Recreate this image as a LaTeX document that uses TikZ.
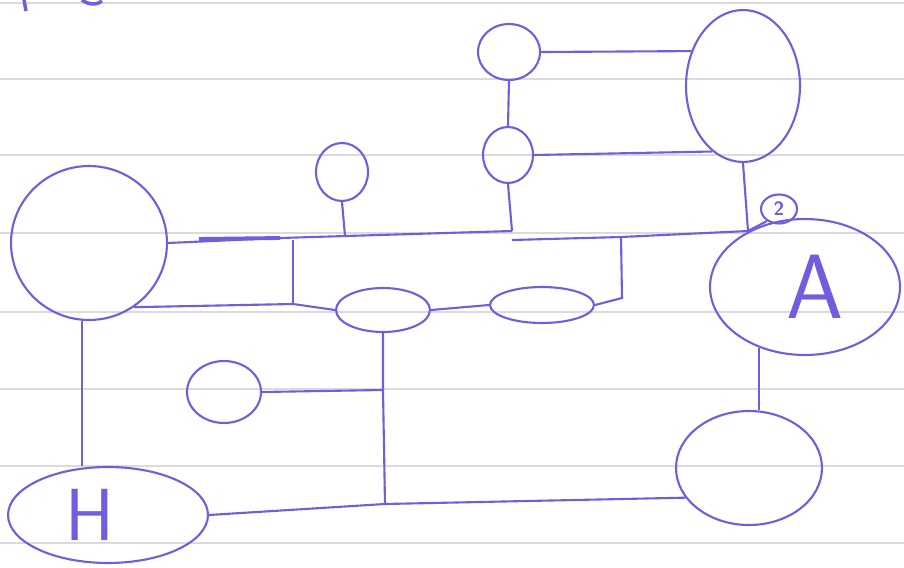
\documentclass[tikz,border=0pt]{standalone}
\usepackage{tikz}
\usetikzlibrary{shapes.geometric}
\definecolor{pen}{RGB}{112,94,224}
\definecolor{ruling}{RGB}{218,218,224}

\begin{document}
\begin{tikzpicture}[x=0.02cm,y=-0.02cm,line width=1.1pt,
  blob/.style={ellipse,draw=pen,line width=1.2pt,inner sep=0pt},
  wire/.style={draw=pen,line width=1.2pt},
  hand/.style={text=pen,font=\sffamily}]
\useasboundingbox (0,0) rectangle (904,568);
% paper rulings
\foreach \yy in {3,79,155,233,312,389,466,543}
  \draw[ruling,line width=0.6pt] (0,\yy) -- (904,\yy);
% cut-off strokes at the top
\draw[wire,line width=2pt] (24,0) -- (26,11);
\draw[wire,line width=2pt] (82,0) .. controls (88,5) and (98,5) .. (102,1);
% nodes
\node[blob,minimum width=1.24cm,minimum height=1.12cm](t1) at (509,52){};
\node[blob,minimum width=2.28cm,minimum height=3.04cm](R) at (743,86){};
\node[blob,minimum width=1.0cm,minimum height=1.12cm](t2) at (508,155){};
\node[blob,minimum width=1.04cm,minimum height=1.16cm](t3) at (342,172){};
\node[blob,minimum width=3.12cm,minimum height=3.08cm](L) at (89,243){};
\node[blob,minimum width=3.8cm,minimum height=2.72cm,label={[hand,font=\sffamily\fontsize{52}{52}\selectfont,xshift=0.2cm]center:A}](A) at (805,287){};
\node[blob,minimum width=0.72cm,minimum height=0.58cm,hand,font=\sffamily\bfseries\fontsize{11}{11}\selectfont](two) at (779,209){2};
\node[blob,minimum width=1.88cm,minimum height=0.88cm](e1) at (383,310){};
\node[blob,minimum width=2.08cm,minimum height=0.72cm](e2) at (542,305){};
\node[blob,minimum width=1.48cm,minimum height=1.24cm](s) at (224,392){};
\node[blob,minimum width=4.0cm,minimum height=1.92cm,label={[hand,font=\sffamily\fontsize{42}{42}\selectfont,xshift=-0.36cm]center:H}](H) at (108,515){};
\node[blob,minimum width=2.92cm,minimum height=2.28cm](B) at (749,468){};
% junctions
\coordinate(b0) at (199,239);\coordinate(b1) at (280,238);\coordinate(b2) at (345,236);
\coordinate(b3) at (512,231);\coordinate(b4) at (512,240);\coordinate(b5) at (621,237);
\coordinate(b6) at (622,298);\coordinate(bend) at (748,231);
\coordinate(c1) at (293,240);\coordinate(c2) at (293,304);
\coordinate(c3) at (385,504);\coordinate(c4) at (383,390);
% connectors
\draw[wire](t1.east)--(R.146);\draw[wire](t2.east)--(R.245);\draw[wire](t1.south)--(t2.north);
\draw[wire](R.south)--(bend);
\draw[wire](L.east)--(b1)--(b3);\draw[wire,line width=2.2pt](b0)--(b1);
\draw[wire](t3.south)--(b2);\draw[wire](t2.south)--(b3);
\draw[wire](b4)--(b5)--(bend)--(two.225);
\draw[wire](b5)--(b6)--(e2.east);
\draw[wire](c1)--(c2);
\draw[wire](L.-55)--(c2)--(e1.west);
\draw[wire](e1.east)--(e2.west);
\draw[wire](e1.south)--(c4)--(c3);\draw[wire](s.east)--(c4);
\draw[wire](L.265)--(L.265 |- H.north);
\draw[wire](H.east)--(c3)--(B.205);
\draw[wire](A.233)--(A.233 |- B.north);
\end{tikzpicture}
\end{document}
